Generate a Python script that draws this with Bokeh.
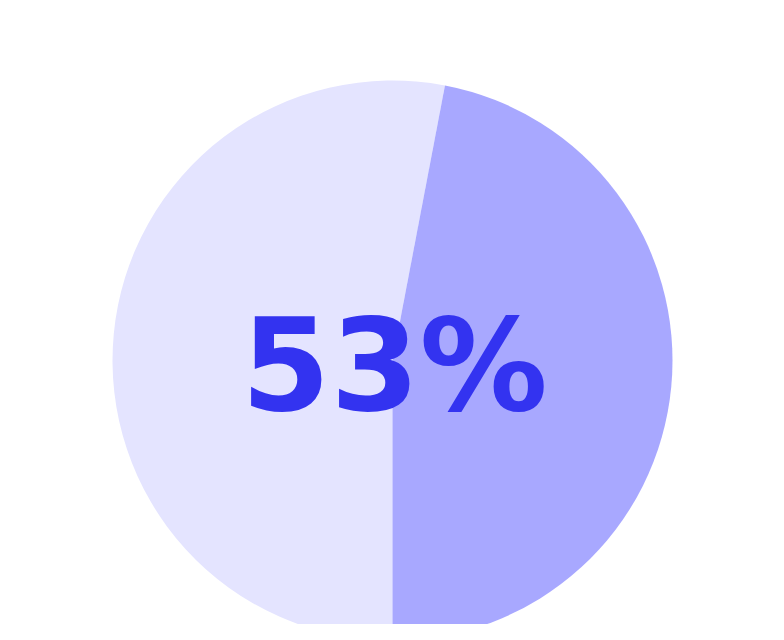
import math
from bokeh.plotting import figure
from bokeh.models import ColumnDataSource
from bokeh.core.properties import value
from bokeh.embed import file_html
from bokeh.resources import INLINE

# share of the two slices (percent)
labels = ["Yes", "No"]
shares = [53, 47]
colors = ["#e4e4ff", "#a8a8ff"]
headline = "53%"

# slices start at 6 o'clock and run clockwise
start = -math.pi / 2
starts, ends = [], []
a = start
for s in shares:
    starts.append(a)
    a -= s / sum(shares) * 2 * math.pi
    ends.append(a)

src = ColumnDataSource(dict(label=labels, share=shares, color=colors,
                            start=starts, end=ends))

W, H = 768, 624
p = figure(width=W, height=H, x_range=(0, W), y_range=(0, H),
           output_backend="svg", toolbar_location=None, min_border=0)
p.axis.visible = False
p.grid.visible = False
p.outline_line_color = None
p.background_fill_color = "white"

cx, cy, r = 392, 264, 280
p.wedge(x=cx, y=cy, radius=r, start_angle="start", end_angle="end",
        direction="clock", fill_color="color", line_color=None, source=src)

p.text(x=[cx + 2], y=[cy - 5], text=[headline], text_align="center",
       text_baseline="alphabetic", text_color="#3333f0",
       text_font=value("DejaVu Sans"), text_font_style="bold",
       text_font_size="128px")

open("out.html", "w").write(file_html(p, INLINE))
